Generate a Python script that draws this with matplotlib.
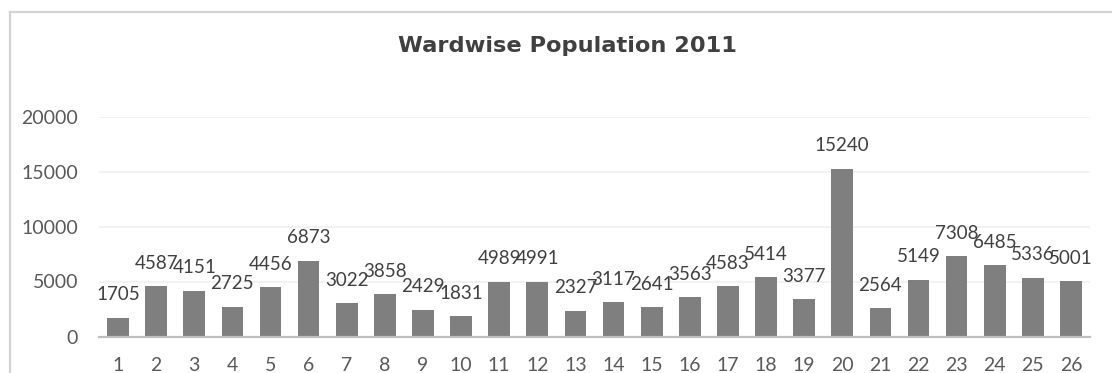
import matplotlib
matplotlib.use("Agg")
import matplotlib.pyplot as plt
from matplotlib.lines import Line2D

# Ward numbers and their 2011 population
wards = [str(i) for i in range(1, 27)]
population = [1705, 4587, 4151, 2725, 4456, 6873, 3022, 3858, 2429, 1831,
              4989, 4991, 2327, 3117, 2641, 3563, 4583, 5414, 3377, 15240,
              2564, 5149, 7308, 6485, 5336, 5001]
y_ticks = [0, 5000, 10000, 15000, 20000]
title = "Wardwise Population 2011"

fig = plt.figure(figsize=(11.12, 3.73), dpi=100)
fig.patch.set_facecolor("white")

# Chart-area frame (runs off the right and bottom edges)
W, H = 1112, 373
fx = lambda px: px / W
fy = lambda py: 1 - py / H
fig.add_artist(Line2D([fx(10), fx(1112)], [fy(12), fy(12)],
                      color="#d4d4d4", lw=1.6, transform=fig.transFigure))
fig.add_artist(Line2D([fx(10), fx(10)], [fy(12), fy(373)],
                      color="#d4d4d4", lw=1.6, transform=fig.transFigure))

ax = fig.add_axes([99 / W, 1 - 336.5 / H, (1090 - 99) / W, (336.5 - 116.5) / H])

x = list(range(len(wards)))
bars = ax.bar(x, population, width=0.57, color="#7f7f7f", zorder=3)

for xi, v in zip(x, population):
    ax.annotate(str(v), (xi, v), xytext=(0, 16.5), textcoords="offset points",
                ha="center", va="center", fontsize=13.5, family=["Lato"],
                color="#404040", zorder=4)

ax.set_xlim(-0.5, len(wards) - 0.5)
ax.set_ylim(0, 20000)
ax.set_yticks(y_ticks)
ax.set_yticklabels([str(t) for t in y_ticks])
ax.set_xticks(x)
ax.set_xticklabels(wards)

for lab in ax.get_xticklabels() + ax.get_yticklabels():
    lab.set_family(["Lato"])
    lab.set_fontsize(14)
    lab.set_color("#595959")

ax.tick_params(axis="both", length=0)
ax.tick_params(axis="x", pad=15)
ax.tick_params(axis="y", pad=15)

ax.grid(axis="y", color="#f0f0f0", lw=1.2, zorder=0)
for side in ["top", "right", "left"]:
    ax.spines[side].set_visible(False)
ax.spines["bottom"].set_color("#bfbfbf")
ax.spines["bottom"].set_linewidth(1.6)
ax.spines["bottom"].set_zorder(4)

fig.text(567 / W, 1 - 46 / H, title, ha="center", va="center",
         fontsize=16.2, fontweight="bold", family=["DejaVu Sans"],
         color="#404040")

fig.savefig("out.png", dpi=100)
